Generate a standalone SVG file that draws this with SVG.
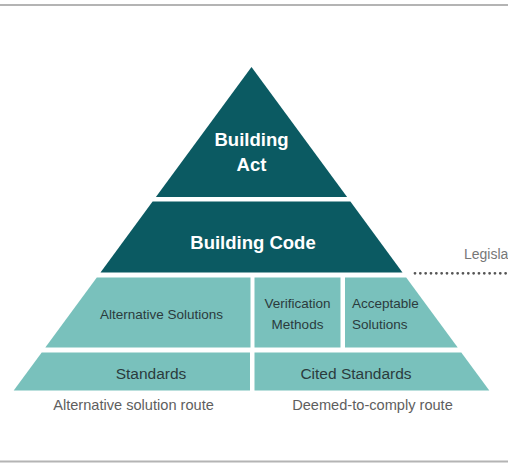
<svg xmlns="http://www.w3.org/2000/svg" width="508" height="466" viewBox="0 0 508 466">
  <style>
    .dark { fill: #0b5a62; }
    .light { fill: #79c1bc; }
    .tw { font-family: "Liberation Sans", Arial, sans-serif; font-weight: bold; fill: #ffffff; text-anchor: middle; font-size: 18.5px; }
    .tc { font-family: "Liberation Sans", Arial, sans-serif; fill: #2b3b3c; font-size: 13.5px; }
    .ts { font-family: "Liberation Sans", Arial, sans-serif; fill: #2b3b3c; font-size: 15.5px; text-anchor: middle; }
    .tg { font-family: "Liberation Sans", Arial, sans-serif; fill: #5e5e5e; font-size: 14.6px; text-anchor: middle; }
    .border { stroke: #b4b4b4; stroke-width: 2; }
  </style>
  <rect width="508" height="466" fill="#ffffff"/>
  <line class="border" x1="0" y1="5" x2="508" y2="5"/>
  <line class="border" x1="0" y1="461.5" x2="508" y2="461.5"/>

  <g id="building-act">
    <polygon class="dark" points="251.5,67 347.1,197 155.9,197"/>
    <text class="tw" x="251.5" y="146">Building</text>
    <text class="tw" x="251.5" y="171">Act</text>
  </g>

  <g id="building-code">
    <polygon class="dark" points="152.6,201.5 350.4,201.5 402.5,272.5 100.5,272.5"/>
    <text class="tw" x="253" y="248.5">Building Code</text>
  </g>

  <g id="alternative-solutions">
    <polygon class="light" points="96.8,277.5 250.5,277.5 250.5,347.5 45.3,347.5"/>
    <text class="tc" x="161.5" y="318.5" text-anchor="middle">Alternative Solutions</text>
  </g>

  <g id="verification-methods">
    <rect class="light" x="254.5" y="277.5" width="86" height="70"/>
    <text class="tc" x="297.5" y="307.5" text-anchor="middle">Verification</text>
    <text class="tc" x="297.5" y="328.5" text-anchor="middle">Methods</text>
  </g>

  <g id="acceptable-solutions">
    <polygon class="light" points="345,277.5 406.2,277.5 457.7,347.5 345,347.5"/>
    <text class="tc" x="352" y="307.5">Acceptable</text>
    <text class="tc" x="352" y="328.5">Solutions</text>
  </g>

  <g id="standards">
    <polygon class="light" points="41.7,352.5 250,352.5 250,390.5 13.7,390.5"/>
    <text class="ts" x="151" y="378.5">Standards</text>
  </g>

  <g id="cited-standards">
    <polygon class="light" points="254.5,352.5 461.3,352.5 489.3,390.5 254.5,390.5"/>
    <text class="ts" x="356" y="378.5">Cited Standards</text>
  </g>

  <g id="route-labels">
    <text class="tg" x="133.5" y="410">Alternative solution route</text>
    <text class="tg" x="372.5" y="410">Deemed-to-comply route</text>
  </g>

  <g id="legislation">
    <text x="464" y="259" font-family="Liberation Sans, Arial, sans-serif" font-size="14px" fill="#777777">Legislation</text>
  </g>

  <g id="connectors">
    <line x1="415" y1="273.3" x2="508" y2="273.3" stroke="#555555" stroke-width="2.8" stroke-linecap="round" stroke-dasharray="0 5.33"/>
  </g>
</svg>
